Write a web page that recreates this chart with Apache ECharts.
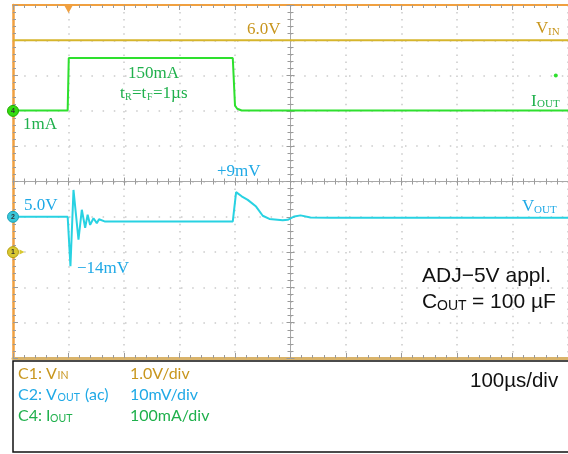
<!DOCTYPE html>
<html>
<head>
<meta charset="utf-8">
<script src="https://cdn.jsdelivr.net/npm/echarts@6/dist/echarts.min.js"></script>
<style>
html,body{margin:0;padding:0;background:#fff;}
#scope{width:568px;height:454px;}
</style>
</head>
<body>
<div id="scope"></div>
<script>
// C1 : VIN (V), 1.0V/div
var vinTime = [0, 1000];
var vinVolt = [6.0, 6.0];
// C4 : IOUT (mA), 100mA/div
var ioutTime = [0, 98.5, 100.5, 396, 400, 404, 412, 1000];
var ioutMA   = [1, 1, 150, 150, 15, 6, 1, 1];
// C2 : VOUT ac (mV), 10mV/div
var voutTime = [0, 98.5, 103.5, 109, 118, 124, 130, 134.5, 139, 145, 151, 155, 165,
                396, 402, 412, 423, 438, 450, 462, 486, 495, 507, 518, 536, 571, 1000];
var voutMV   = [0, 0, -14, 7.6, -6.5, 2.0, -3.1, 0.6, -2.3, -0.4, -1.8, -0.7, -1.3,
                -1.3, 7.0, 5.8, 4.8, 2.9, 0.3, -0.6, -1.0, -0.85, 0.1, 0.4, -0.2, -0.3, -0.3];

var ORANGE = '#f0a040';
var GOLD_T = '#c8961e', GREEN_T = '#1fb04c', CYAN_T = '#1fa9e6';

function pairs(xs, ys) {
    var out = [];
    for (var i = 0; i < xs.length; i++) out.push([xs[i], ys[i]]);
    return out;
}
function txt(x, y, s, color, size, family) {
    return {
        type: 'text', z: 100,
        style: {
            x: x, y: y, text: s, fill: color,
            font: size + 'px ' + (family || '"Liberation Serif"'),
            verticalAlign: 'middle', textVerticalAlign: 'middle'
        }
    };
}
var SANS = '"Liberation Sans"', LATO = 'Lato';

var myChart = echarts.init(document.getElementById('scope'));

var tickStyle = {color: '#9a9a9a', width: 1};

option = {
    animation: false,
    backgroundColor: '#fff',
    grid: {left: 13, top: 5, width: 560, height: 353},
    xAxis: [
        {   // bottom frame + vertical dotted grid
            type: 'value', min: 0, max: 1000, interval: 100, position: 'bottom',
            axisLine: {onZero: false, lineStyle: {color: '#d9b36a', width: 3}},
            axisTick: {inside: true, length: 5, lineStyle: tickStyle},
            minorTick: {show: true, splitNumber: 5, length: 3, lineStyle: tickStyle},
            axisLabel: {show: false},
            splitLine: {show: true, lineStyle: {color: '#cacaca', width: 1.5, type: [1.5, 5.56]}}
        },
        {   // top frame
            type: 'value', min: 0, max: 1000, interval: 100, position: 'top',
            axisLine: {onZero: false, lineStyle: {color: ORANGE, width: 2}},
            axisTick: {inside: true, length: 5, lineStyle: tickStyle},
            minorTick: {show: true, splitNumber: 5, length: 3, lineStyle: tickStyle},
            axisLabel: {show: false}, splitLine: {show: false}
        },
        {type: 'value', min: -5, max: 5, show: false},   // helper for centre line
        {   // centre horizontal, ticks up
            type: 'value', min: 0, max: 1000, interval: 100, position: 'bottom',
            axisLine: {onZero: true, onZeroAxisIndex: 1, lineStyle: {color: '#a8a8a8', width: 1}},
            axisTick: {inside: true, length: 4, lineStyle: tickStyle},
            minorTick: {show: true, splitNumber: 5, length: 3, lineStyle: tickStyle},
            axisLabel: {show: false}, splitLine: {show: false}
        },
        {   // centre horizontal, ticks down
            type: 'value', min: 0, max: 1000, interval: 100, position: 'top',
            axisLine: {onZero: true, onZeroAxisIndex: 1, lineStyle: {color: '#a8a8a8', width: 1}},
            axisTick: {inside: true, length: 4, lineStyle: tickStyle},
            minorTick: {show: true, splitNumber: 5, length: 3, lineStyle: tickStyle},
            axisLabel: {show: false}, splitLine: {show: false}
        }
    ],
    yAxis: [
        {   // left frame + horizontal dotted grid
            type: 'value', min: 0, max: 10, interval: 1, position: 'left',
            axisLine: {onZero: false, lineStyle: {color: ORANGE, width: 2.5}},
            axisTick: {inside: true, length: 5, lineStyle: tickStyle},
            minorTick: {show: true, splitNumber: 5, length: 3, lineStyle: tickStyle},
            axisLabel: {show: false},
            splitLine: {show: true, lineStyle: {color: '#cacaca', width: 1.5, type: [1.5, 9.7]}}
        },
        {type: 'value', min: -5, max: 5, show: false},   // helper for centre line
        {   // centre vertical, ticks right
            type: 'value', min: 0, max: 10, interval: 1, position: 'left',
            axisLine: {onZero: true, onZeroAxisIndex: 2, lineStyle: {color: '#a8a8a8', width: 1}},
            axisTick: {inside: true, length: 4, lineStyle: tickStyle},
            minorTick: {show: true, splitNumber: 5, length: 3, lineStyle: tickStyle},
            axisLabel: {show: false}, splitLine: {show: false}
        },
        {   // centre vertical, ticks left
            type: 'value', min: 0, max: 10, interval: 1, position: 'right',
            axisLine: {onZero: true, onZeroAxisIndex: 2, lineStyle: {color: '#a8a8a8', width: 1}},
            axisTick: {inside: true, length: 4, lineStyle: tickStyle},
            minorTick: {show: true, splitNumber: 5, length: 3, lineStyle: tickStyle},
            axisLabel: {show: false}, splitLine: {show: false}
        },
        {type: 'value', min: -3, max: 7, show: false},      // C1 VIN
        {type: 'value', min: -40, max: 60, show: false},    // C2 VOUT
        {type: 'value', min: -700, max: 300, show: false}   // C4 IOUT
    ],
    series: [
        {
            name: 'VIN', type: 'line', xAxisIndex: 0, yAxisIndex: 4,
            data: pairs(vinTime, vinVolt), showSymbol: false, silent: true,
            lineStyle: {color: '#d6b52c', width: 2},
            markPoint: {
                silent: true,
                data: [
                    {coord: [0, 0], symbol: 'circle', symbolSize: 11,
                     itemStyle: {color: '#d8c832', borderColor: '#b8a010', borderWidth: 1},
                     label: {show: true, formatter: '1', color: '#333', fontSize: 7, fontWeight: 'bold'}},
                    {coord: [0, 0], symbol: 'triangle', symbolRotate: -90, symbolSize: [5, 5],
                     symbolOffset: [9, 0], itemStyle: {color: '#d8c832'}, label: {show: false}},
                    {coord: [100, 7], symbol: 'triangle', symbolRotate: 180, symbolSize: [9, 8],
                     symbolOffset: [0, 4], itemStyle: {color: ORANGE}, label: {show: false}}
                ]
            }
        },
        {
            name: 'IOUT', type: 'line', xAxisIndex: 0, yAxisIndex: 6,
            data: pairs(ioutTime, ioutMA), showSymbol: false, silent: true,
            lineStyle: {color: '#2ee02e', width: 2},
            markPoint: {
                silent: true,
                data: [
                    {coord: [0, 0], symbol: 'circle', symbolSize: 11,
                     itemStyle: {color: '#33dd11', borderColor: '#22aa00', borderWidth: 1},
                     label: {show: true, formatter: '4', color: '#333', fontSize: 7, fontWeight: 'bold'}},
                    {coord: [978, 100], symbol: 'circle', symbolSize: 4,
                     itemStyle: {color: '#2ee02e'}, label: {show: false}}
                ]
            }
        },
        {
            name: 'VOUT', type: 'line', xAxisIndex: 0, yAxisIndex: 5,
            data: pairs(voutTime, voutMV), showSymbol: false, silent: true,
            lineStyle: {color: '#28d2e2', width: 2},
            markPoint: {
                silent: true,
                data: [
                    {coord: [0, 0], symbol: 'circle', symbolSize: 11,
                     itemStyle: {color: '#38c8da', borderColor: '#1ca0b8', borderWidth: 1},
                     label: {show: true, formatter: '2', color: '#333', fontSize: 7, fontWeight: 'bold'}}
                ]
            }
        }
    ],
    graphic: [
        // trace annotations
        txt(247, 30, '6.0V', GOLD_T, 17),
        txt(536, 28.5, 'V', GOLD_T, 17), txt(548, 32.5, 'IN', GOLD_T, 11),
        txt(128, 74, '150mA', GREEN_T, 17),
        txt(120, 94, 't', GREEN_T, 17), txt(125, 97.5, 'R', GREEN_T, 10),
        txt(132, 94, '=t', GREEN_T, 17), txt(147, 97.5, 'F', GREEN_T, 10),
        txt(153, 94, '=1\u00b5s', GREEN_T, 17),
        txt(23, 125, '1mA', GREEN_T, 17),
        txt(531, 102, 'I', GREEN_T, 17), txt(537, 104, 'OUT', GREEN_T, 11),
        txt(24, 205.5, '5.0V', CYAN_T, 17),
        txt(77, 268.5, '\u221214mV', CYAN_T, 17),
        txt(217, 172, '+9mV', CYAN_T, 17),
        txt(522, 207, 'V', CYAN_T, 17), txt(534, 210.5, 'OUT', CYAN_T, 11),
        // application note
        txt(422, 276.5, 'ADJ\u22125V appl.', '#111', 21, SANS),
        txt(422, 302.5, 'C', '#111', 21, SANS), txt(437, 306.5, 'OUT', '#111', 14, SANS),
        txt(472, 302.5, '= 100 \u00b5F', '#111', 21, SANS),
        // channel setup box
        {type: 'rect', z: 90, shape: {x: 13, y: 361, width: 560, height: 91},
         style: {fill: '#fff', stroke: '#111', lineWidth: 1.5}},
        txt(18, 373.5, 'C1: V', GOLD_T, 16, LATO), txt(57.5, 376, 'IN', GOLD_T, 10.5, LATO),
        txt(130, 373.5, '1.0V/div', GOLD_T, 16, LATO),
        txt(18, 395, 'C2: V', CYAN_T, 16, LATO), txt(57.5, 397.5, 'OUT', CYAN_T, 10.5, LATO),
        txt(85, 395, '(ac)', CYAN_T, 16, LATO),
        txt(130, 395, '10mV/div', CYAN_T, 16, LATO),
        txt(18, 416, 'C4: I', GREEN_T, 16, LATO), txt(50, 418.5, 'OUT', GREEN_T, 10.5, LATO),
        txt(130, 416, '100mA/div', GREEN_T, 16, LATO),
        txt(470, 381, '100\u00b5s/div', '#111', 20.5, SANS)
    ]
};

if (option && typeof option === "object") {
    myChart.setOption(option, true);
}
</script>
</body>
</html>
